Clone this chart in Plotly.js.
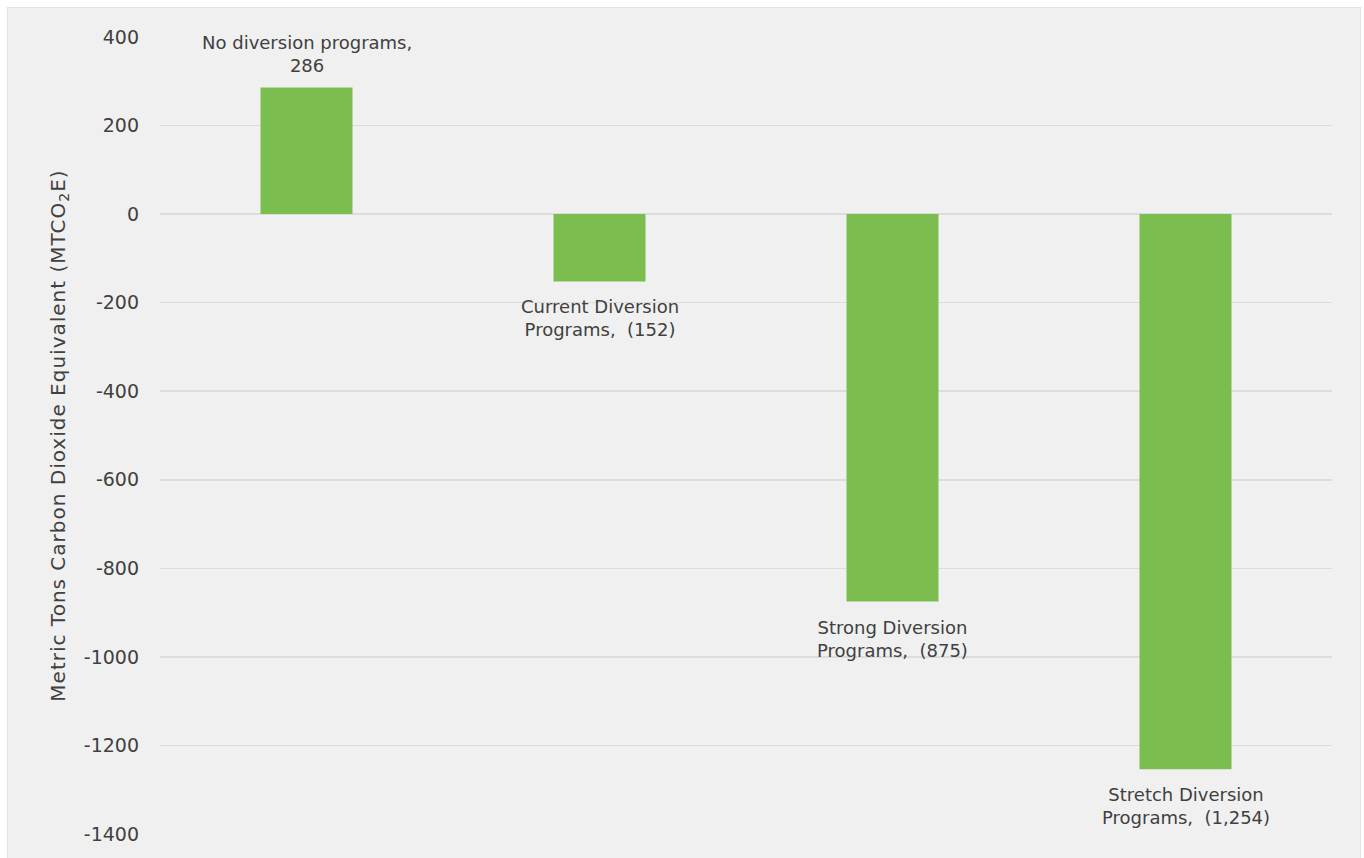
<!DOCTYPE html>
<html>
<head>
<meta charset="utf-8">
<script src="https://cdn.plot.ly/plotly-3.0.1.min.js"></script>
<style>
  html, body { margin: 0; padding: 0; background: #ffffff; width: 1364px; height: 858px; overflow: hidden; }
  #frame { position: absolute; left: 7px; top: 7px; width: 1354px; height: 860px; background: #f0f0f0; border: 1px solid #e2e2e2; box-sizing: border-box; }
  #chart { position: absolute; left: 0; top: 0; width: 1364px; height: 858px; }
  .ytitle { letter-spacing: 1px; }
</style>
</head>
<body>
<div id="frame"></div>
<div id="chart"></div>
<script>
const categories = ["No diversion programs", "Current Diversion Programs", "Strong Diversion Programs", "Stretch Diversion Programs"];
const labelLines = ["No diversion programs,", "Current Diversion<br>Programs, ", "Strong Diversion<br>Programs, ", "Stretch Diversion<br>Programs, "];
const values = [286, -152, -875, -1254];
const tickValues = [400, 200, 0, -200, -400, -600, -800, -1000, -1200, -1400];

const FONT = "'DejaVu Sans', sans-serif";
const TEXT = "#404040";

function fmt(v) {
  const s = Math.abs(v).toLocaleString("en-US");
  return v < 0 ? " (" + s + ")" : s;
}

const annotations = values.map((v, i) => ({
  x: categories[i],
  y: v,
  xref: "x", yref: "y",
  text: v >= 0 ? labelLines[i] + "<br>" + fmt(v) : labelLines[i] + fmt(v),
  showarrow: false,
  yanchor: v >= 0 ? "bottom" : "top",
  yshift: v >= 0 ? 9 : -13,
  font: { family: FONT, size: 18, color: TEXT },
  align: "center"
}));

const trace = {
  type: "bar",
  x: categories,
  y: values,
  width: 0.314,
  marker: { color: "#7cbd4f" },
  hoverinfo: "skip"
};

const layout = {
  width: 1364, height: 858,
  margin: { l: 160, r: 32, t: 37, b: 24 },
  paper_bgcolor: "rgba(0,0,0,0)",
  plot_bgcolor: "rgba(0,0,0,0)",
  showlegend: false,
  font: { family: FONT, color: TEXT },
  xaxis: { showticklabels: false, showgrid: false, zeroline: false, showline: false, ticks: "" },
  yaxis: {
    range: [-1400, 400],
    tickvals: tickValues,
    ticktext: tickValues.map(String),
    tickfont: { family: FONT, size: 19, color: TEXT },
    gridcolor: "#dcdcdc", gridwidth: 1.5,
    zeroline: true, zerolinecolor: "#dcdcdc", zerolinewidth: 1.5,
    showline: false, ticks: "",
    ticklabelstandoff: 20,
    title: { text: "Metric Tons Carbon Dioxide Equivalent (MTCO<sub>2</sub>E)", font: { family: FONT, size: 20, color: TEXT }, standoff: 12 },
    automargin: false
  },
  annotations: annotations
};

Plotly.newPlot("chart", [trace], layout, { displayModeBar: false, staticPlot: true });
</script>
</body>
</html>
